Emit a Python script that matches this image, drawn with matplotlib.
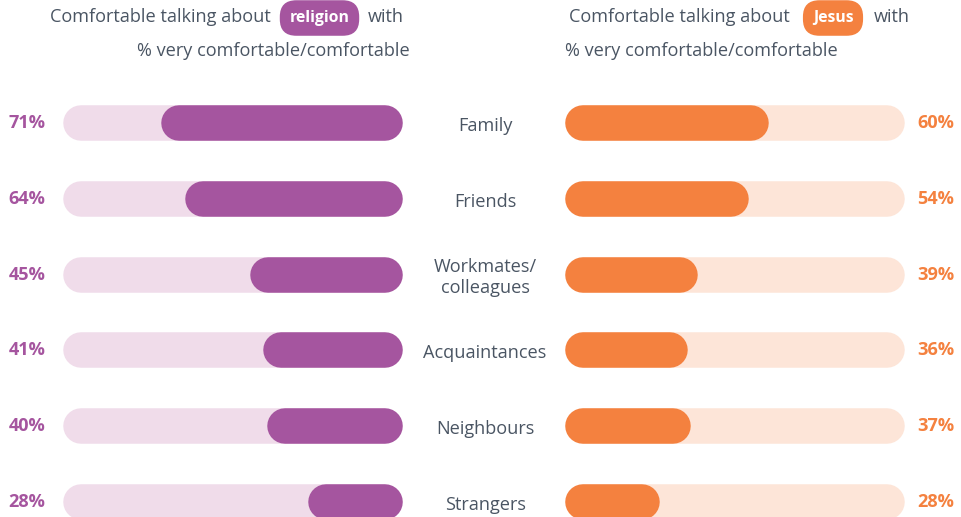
import matplotlib
matplotlib.use("Agg")
import matplotlib.pyplot as plt

categories = ["Family", "Friends", "Workmates/\ncolleagues", "Acquaintances", "Neighbours", "Strangers"]
religion = [71, 64, 45, 41, 40, 28]
jesus = [60, 54, 39, 36, 37, 28]

PURPLE = "#A5559F"
PURPLE_L = "#F0DCEA"
ORANGE = "#F4813F"
ORANGE_L = "#FDE5D8"
GREY = "#4A5563"
FONT = "Open Sans"

W, H = 961, 517
fig = plt.figure(figsize=(W / 100, H / 100), dpi=100)
renderer = fig.canvas.get_renderer()

def fit_size(s, target_px, weight="normal"):
    t = fig.text(0, 0, s, fontsize=10, family=FONT, fontweight=weight)
    w = t.get_window_extent(renderer).width
    t.remove()
    return 10 * target_px / w

FS = fit_size("Comfortable talking about", 221)
FSB = fit_size("71%", 37, "bold")
FSP = fit_size("religion", 60, "bold")

y_top = -123 / 75.8
y_bot = (H - 123) / 75.8
bar_px = 35.5
lw = bar_px * 72 / 100
pad = (bar_px / 2) * 100 / 340

axL = fig.add_axes([63 / W, 0, 340 / W, 1])
axR = fig.add_axes([565 / W, 0, 340 / W, 1])
for ax in (axL, axR):
    ax.set_ylim(y_bot, y_top)
    ax.axis("off")
axL.set_xlim(100, 0)
axR.set_xlim(0, 100)

for i, (cat, r, j) in enumerate(zip(categories, religion, jesus)):
    axL.plot([pad, 100 - pad], [i, i], color=PURPLE_L, lw=lw, solid_capstyle="round", clip_on=False)
    axL.plot([pad, r - pad], [i, i], color=PURPLE, lw=lw, solid_capstyle="round", clip_on=False)
    axR.plot([pad, 100 - pad], [i, i], color=ORANGE_L, lw=lw, solid_capstyle="round", clip_on=False)
    axR.plot([pad, j - pad], [i, i], color=ORANGE, lw=lw, solid_capstyle="round", clip_on=False)
    axL.text(110.6, i, f"{r}%", ha="center", va="center", color=PURPLE,
             fontsize=FSB, fontweight="bold", family=FONT, clip_on=False)
    axR.text(109.1, i, f"{j}%", ha="center", va="center", color=ORANGE,
             fontsize=FSB, fontweight="bold", family=FONT, clip_on=False)
    axR.text(-23.5, i + 0.04, cat, ha="center", va="center", color=GREY,
             fontsize=FS, family=FONT, linespacing=1.25, clip_on=False)

tx = fig.add_axes([0, 0, 1, 1], zorder=5)
tx.set_xlim(0, W)
tx.set_ylim(H, 0)
tx.axis("off")
tx.patch.set_alpha(0)

def header(x0, pill_cx, word, color, with_x, sub_x):
    tx.text(x0, 17, "Comfortable talking about", ha="left", va="center", color=GREY, fontsize=FS, family=FONT)
    tx.text(pill_cx, 18, word, ha="center", va="center", color="white", fontsize=FSP,
            fontweight="bold", family=FONT,
            bbox=dict(boxstyle="round,pad=0.62,rounding_size=1.05", fc=color, ec="none"))
    tx.text(with_x, 17, "with", ha="left", va="center", color=GREY, fontsize=FS, family=FONT)
    tx.text(sub_x, 51, "% very comfortable/comfortable", ha="left", va="center", color=GREY, fontsize=FS, family=FONT)

header(50, 319.5, "religion", PURPLE, 368, 137)
header(569, 833, "Jesus", ORANGE, 874, 565)

fig.savefig("out.png", dpi=100)
